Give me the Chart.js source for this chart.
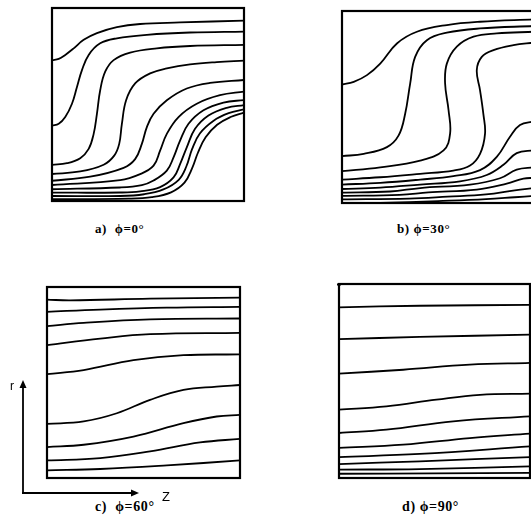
<!DOCTYPE html>
<html lang="en">
<head>
    <meta charset="UTF-8">
    <title>Isotherms</title>
    <script src="https://cdn.jsdelivr.net/npm/chart.js"></script>
    <style>
        html, body { margin: 0; padding: 0; background: #fff; overflow: hidden; }
        body { width: 531px; height: 522px; position: relative; }
        canvas { position: absolute; }
        .lbl { position: absolute; font-family: "Liberation Serif", serif; font-weight: bold; color: #000; white-space: nowrap; letter-spacing: 0.6px; }
        .top { font-size: 13px; line-height: 14px; }
        .bot { font-size: 14px; line-height: 15px; }
        svg { position: absolute; left: 0; top: 0; }
    </style>
</head>
<body>
    <canvas id="pa" width="200" height="201" style="left:48px; top:4px;"></canvas>
    <canvas id="pb" width="200" height="200" style="left:338px; top:7px;"></canvas>
    <canvas id="pc" width="201" height="199" style="left:43px; top:283px;"></canvas>
    <canvas id="pd" width="199" height="202" style="left:335px; top:280px;"></canvas>

    <div class="lbl top" style="left:95px; top:222px;">a)&nbsp; ϕ=0°</div>
    <div class="lbl top" style="left:397px; top:222px;">b) ϕ=30°</div>
    <div class="lbl bot" style="left:95px; top:499px;">c)&nbsp; ϕ=60°</div>
    <div class="lbl bot" style="left:402px; top:499px;">d) ϕ=90°</div>

    <svg width="531" height="522">
        <line x1="23" y1="386" x2="23" y2="493" stroke="#000" stroke-width="1.8"/>
        <polygon points="23,380 19.5,388 26.5,388" fill="#000"/>
        <line x1="22" y1="493" x2="133" y2="493" stroke="#000" stroke-width="1.8"/>
        <polygon points="139,493 131,489.5 131,496.5" fill="#000"/>
        <line x1="337" y1="284.5" x2="341" y2="284.5" stroke="#000" stroke-width="2"/>
        <text x="10" y="390" font-family="Liberation Sans, sans-serif" font-size="12">r</text>
        <text x="162" y="501" font-family="Liberation Sans, sans-serif" font-size="13">Z</text>
    </svg>

    <script>
    // contour lines, [z, r] in percent of the box (z left->right, r bottom->top)

    // a) phi = 0
    const a1 = [[0,73],[3.5,73.6],[6.9,75.7],[11.3,79.1],[16.5,83.5],[23.4,87],[33.8,90.1],[45.9,91.7],[66.7,92.5],[100,93.5]];
    const a2 = [[0,39.1],[3.5,40],[6.9,43.5],[10.4,50.4],[13,59.1],[15.6,67.8],[19.1,75.7],[25.1,81.7],[33.8,84.3],[49.4,86.1],[71.9,87.3],[100,87.8]];
    const a3 = [[0,18.7],[7.8,19.6],[14.7,22.2],[19.1,27],[21.7,34.8],[23.4,45.2],[25.1,57.4],[27.7,67],[32.1,73],[40.7,76.9],[54.6,79.1],[71.9,80.3],[100,80.9]];
    const a4 = [[0,14],[14.7,15.3],[26.9,18.8],[32.4,23.5],[35,29.6],[36.4,40],[38.6,52.2],[43.3,60.9],[51.1,66.1],[59.8,68.7],[71.9,70.8],[85.8,72],[100,72.7]];
    const a5 = [[0,10.5],[19.9,12.6],[37.3,17.2],[43.3,21.7],[46.8,29.6],[49.4,38.3],[52.9,45.2],[59.8,52.2],[70.2,58.3],[82.3,61.2],[100,62.7]];
    const a6 = [[0,8.3],[35.5,10.8],[45.9,13.9],[52.9,18.3],[56.3,26.1],[59.8,34.8],[65.9,43.5],[75.4,50.4],[87.5,54.8],[100,56.7]];
    const a7 = [[0,6.1],[35.5,7],[46.8,8.2],[52.9,10.6],[59.8,15.7],[63.3,22.6],[66.7,31.3],[71.1,40],[78.9,47],[89.3,51],[100,52.3]];
    const a8 = [[0,4.3],[35.5,4.4],[45.9,5],[56.3,7.2],[63.3,12.2],[66.7,19.1],[70.2,27.8],[74.5,37.4],[81.5,44.3],[91,48.3],[100,49.7]];
    const a9 = [[0,2.6],[35.5,2.6],[48,3.5],[58,6],[66,11],[70,18],[73,27],[77,35],[84,41.5],[92,45.5],[100,47.5]];
    const a10 = [[0,0.9],[40,1.2],[52,2],[62,4.5],[69,9.5],[73,17],[76,25],[80,33],[86,39.5],[93,43.5],[100,45.8]];

    // b) phi = 30
    const b1 = [[0,61.7],[6.1,63.1],[13,66.6],[19.9,72.6],[28.6,83.1],[39,89.2],[54.6,92.7],[71.9,94.4],[100,95.6]];
    const b2 = [[0,24.4],[11.3,25.6],[23.4,29.1],[29.5,35.2],[32.9,46.5],[35.5,62.2],[38.1,76.1],[44.2,84.8],[54.6,88.7],[71.9,90.9],[100,92.2]];
    const b3 = [[0,16.6],[19.9,18.6],[40.7,22.1],[52.9,27.4],[56.3,36.1],[55.5,48.3],[53.7,62.2],[54.6,72.6],[59.8,81.4],[68.5,86.6],[80.6,88.3],[100,89.2]];
    const b4 = [[0,12.2],[19.9,13.4],[40.7,15.2],[58,16.9],[66.7,19.5],[71.9,25.6],[74.5,36.1],[73.6,46.5],[71.9,58.7],[70.2,69.2],[72.8,76.1],[78.9,79.6],[89.3,82.2],[100,83.6]];
    const b5 = [[0,9.6],[20,10.5],[40.7,12.2],[58,14],[71.9,17.1],[80.6,24],[87.5,34.5],[92.7,40.6],[100,42.5]];
    const b6 = [[0,7.3],[20,8],[40.7,9.6],[61.5,11.3],[75.4,14.6],[84.1,19.9],[91,26],[100,27.4]];
    const b7 = [[0,5.4],[25,6],[40.7,7.8],[66.7,9.6],[82.3,12.9],[91,17.4],[100,18.6]];
    const b8 = [[0,3.7],[30,4.2],[45,5.5],[70.2,7],[85.8,10.1],[94.5,12.7],[100,13.1]];
    const b9 = [[0,1.9],[35,2.3],[55,3.3],[75,4.5],[90,6.6],[100,7.8]];
    const b10 = [[20,0],[50,1],[75,2],[90,3],[100,3.7]];

    // c) phi = 60
    const c1 = [[0,93.4],[12.1,93],[53.4,93.9],[100,94.4]];
    const c2 = [[0,87],[27.6,88.2],[62.1,89.2],[100,89.6]];
    const c3 = [[0,79.5],[19,81.2],[53.4,83],[100,83.5]];
    const c4 = [[0,69.6],[27.6,73],[53.4,75.3],[100,76]];
    const c5 = [[0,54.4],[19,56.5],[44.8,61.7],[70.7,64.3],[100,64.7]];
    const c6 = [[0,28.3],[19,29.6],[36.2,33.9],[53.4,40.9],[70.7,46.1],[87.9,47.8],[100,48.7]];
    const c7 = [[0,16.2],[19,17.4],[44.8,21.7],[70.7,28.7],[87.9,32.2],[100,33]];
    const c8 = [[0,9.2],[27.6,10.4],[53.4,13.9],[79.3,18.6],[100,20.5]];
    const c9 = [[0,4],[27.6,4.7],[62.1,6.6],[100,9.2]];

    // d) phi = 90
    const d1 = [[0,88],[42.3,88.8],[100,89.2]];
    const d2 = [[0,71.6],[42.3,72.7],[100,73.9]];
    const d3 = [[0,53.8],[33.6,55.8],[68.5,58.4],[100,59.3]];
    const d4 = [[0,35.2],[24.8,36.9],[51,40.4],[73.8,42.9],[100,43.5]];
    const d5 = [[0,23.2],[24.8,24.9],[59.8,29.2],[100,31.8]];
    const d6 = [[0,15.5],[33.6,17.2],[68.5,20.6],[100,22.9]];
    const d7 = [[0,10.8],[42.3,12.4],[100,16.3]];
    const d8 = [[0,7.2],[42.3,8.6],[100,10.8]];
    const d9 = [[0,4.3],[42.3,4.6],[100,6]];
    const d10 = [[0,2.2],[50,2.4],[100,2.6]];

    const curvesA = [a1, a2, a3, a4, a5, a6, a7, a8, a9, a10];
    const curvesB = [b1, b2, b3, b4, b5, b6, b7, b8, b9, b10];
    const curvesC = [c1, c2, c3, c4, c5, c6, c7, c8, c9];
    const curvesD = [d1, d2, d3, d4, d5, d6, d7, d8, d9, d10];

    // frame round the plot area
    const boxPlugin = {
        id: 'box',
        afterDraw(chart) {
            const { ctx, chartArea: a } = chart;
            ctx.save();
            ctx.strokeStyle = '#000';
            ctx.lineWidth = 2.2;
            ctx.strokeRect(a.left, a.top, a.right - a.left, a.bottom - a.top);
            ctx.restore();
        }
    };

    function makePanel(id, curves) {
        new Chart(document.getElementById(id), {
            type: 'line',
            data: {
                datasets: curves.map(c => ({
                    data: c.map(p => ({ x: p[0], y: p[1] })),
                    borderColor: '#000',
                    borderWidth: 1.8,
                    pointRadius: 0,
                    tension: 0.4,
                    fill: false
                }))
            },
            options: {
                responsive: false,
                animation: false,
                layout: { padding: 4 },
                plugins: { legend: { display: false }, tooltip: { enabled: false } },
                scales: {
                    x: { type: 'linear', min: 0, max: 100, display: false },
                    y: { type: 'linear', min: 0, max: 100, display: false }
                }
            },
            plugins: [boxPlugin]
        });
    }

    makePanel('pa', curvesA);
    makePanel('pb', curvesB);
    makePanel('pc', curvesC);
    makePanel('pd', curvesD);
    </script>
</body>
</html>
